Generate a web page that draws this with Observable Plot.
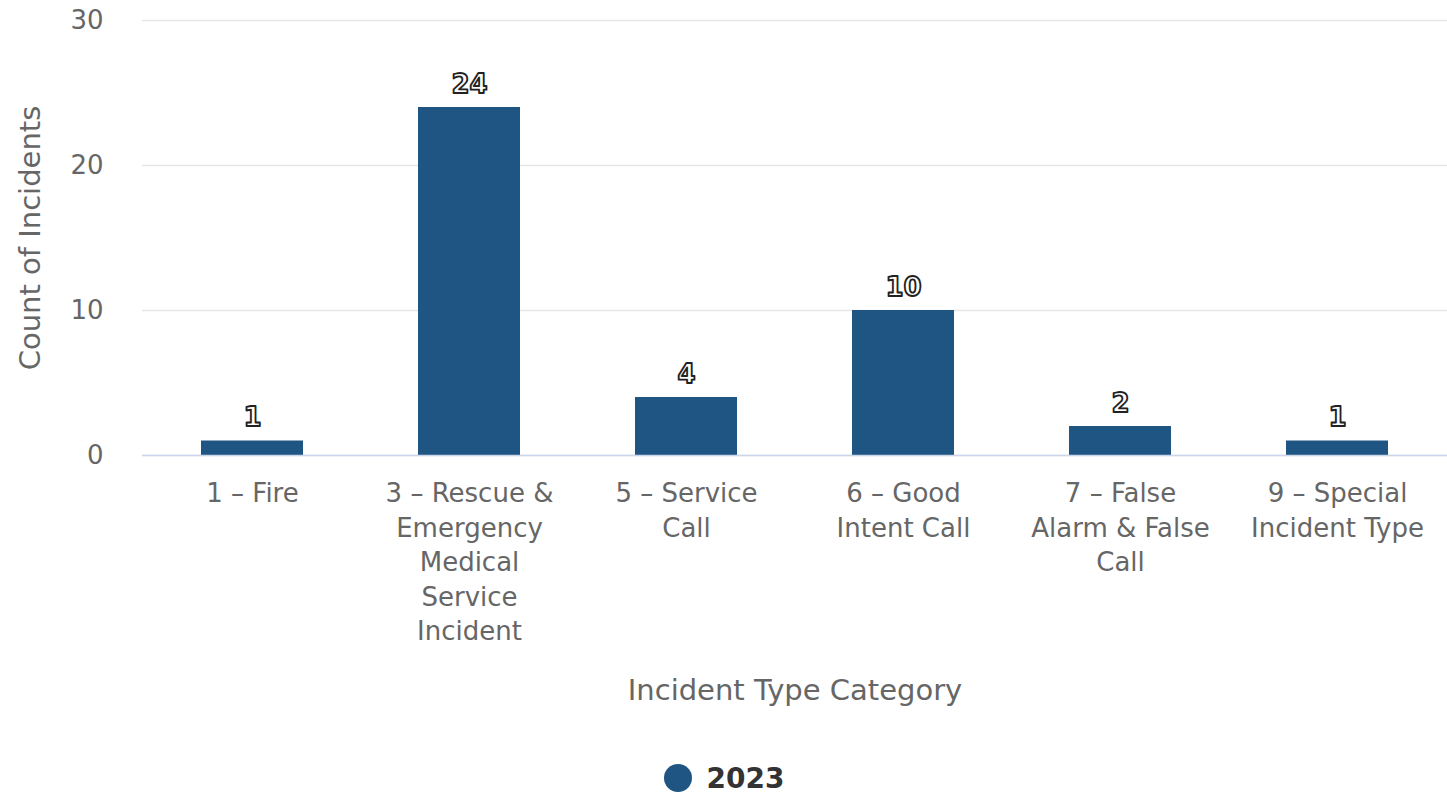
<!DOCTYPE html>
<html>
<head>
<meta charset="utf-8">
<script src="https://cdn.jsdelivr.net/npm/d3@7"></script>
<script src="https://cdn.jsdelivr.net/npm/@observablehq/plot@0.6"></script>
<style>
  body { margin: 0; background: #fff; font-family: "DejaVu Sans", sans-serif; }
  #legend { display: flex; justify-content: center; align-items: center; padding-top: 18px; height: 40px; }
  #legend span { font-weight: bold; font-size: 28px; color: #333; margin-left: 14px; }
</style>
</head>
<body>
<div id="chart"></div>
<div id="legend"></div>
<script>
const categories = [
  "1 – Fire",
  "3 – Rescue & Emergency Medical Service Incident",
  "5 – Service Call",
  "6 – Good Intent Call",
  "7 – False Alarm & False Call",
  "9 – Special Incident Type"
];
const tickLabels = [
  "1 – Fire",
  "3 – Rescue &\nEmergency\nMedical\nService\nIncident",
  "5 – Service\nCall",
  "6 – Good\nIntent Call",
  "7 – False\nAlarm & False\nCall",
  "9 – Special\nIncident Type"
];
const counts2023 = [1, 24, 4, 10, 2, 1];
const seriesName = "2023";
const yTicks = [0, 10, 20, 30];
const xTitle = "Incident Type Category";
const yTitle = "Count of Incidents";

const barColor = "#1f5582";
const data = categories.map((c, i) => ({category: c, count: counts2023[i]}));
const labelOf = new Map(categories.map((c, i) => [c, tickLabels[i]]));

const chart = Plot.plot({
  width: 1447,
  height: 740,
  marginTop: 20,
  marginLeft: 142,
  marginRight: 0,
  marginBottom: 285,
  style: {fontFamily: "DejaVu Sans, sans-serif", fontSize: "26px", color: "#666", background: "#fff"},
  x: {domain: categories, paddingInner: 0.53, paddingOuter: 0.265, label: null},
  y: {domain: [0, 30], label: null},
  marks: [
    Plot.gridY(yTicks, {stroke: "#e6e6e6", strokeOpacity: 1, strokeWidth: 1.5}),
    Plot.axisY(yTicks, {tickSize: 0, tickPadding: 39, fontSize: 26, fill: "#666", label: null}),
    Plot.axisX({tickSize: 0, tickPadding: 22, fontSize: 26, fill: "#666", lineHeight: 1.33,
      tickFormat: d => labelOf.get(d), label: null}),
    Plot.barY(data, {x: "category", y: "count", fill: barColor}),
    Plot.ruleY([0], {stroke: "#ccd6eb", strokeWidth: 1.5}),
    Plot.text(data, {x: "category", y: "count", text: d => String(d.count), lineAnchor: "bottom", dy: -15,
      fontWeight: "bold", fontSize: 26, fill: "#fff", stroke: "#222", strokeWidth: 1.8, paintOrder: "normal"}),
    Plot.text([yTitle], {frameAnchor: "left", rotate: -90, dx: -112, text: d => d, fontSize: 29, fill: "#666", textAnchor: "middle"}),
    Plot.text([xTitle], {frameAnchor: "bottom", dy: 235, lineAnchor: "middle", text: d => d, fontSize: 29, fill: "#666"})
  ]
});
document.getElementById("chart").appendChild(chart);

const legend = document.getElementById("legend");
legend.innerHTML = `<svg width="30" height="30"><circle cx="15" cy="15" r="14" fill="${barColor}"/></svg><span>${seriesName}</span>`;
</script>
</body>
</html>
